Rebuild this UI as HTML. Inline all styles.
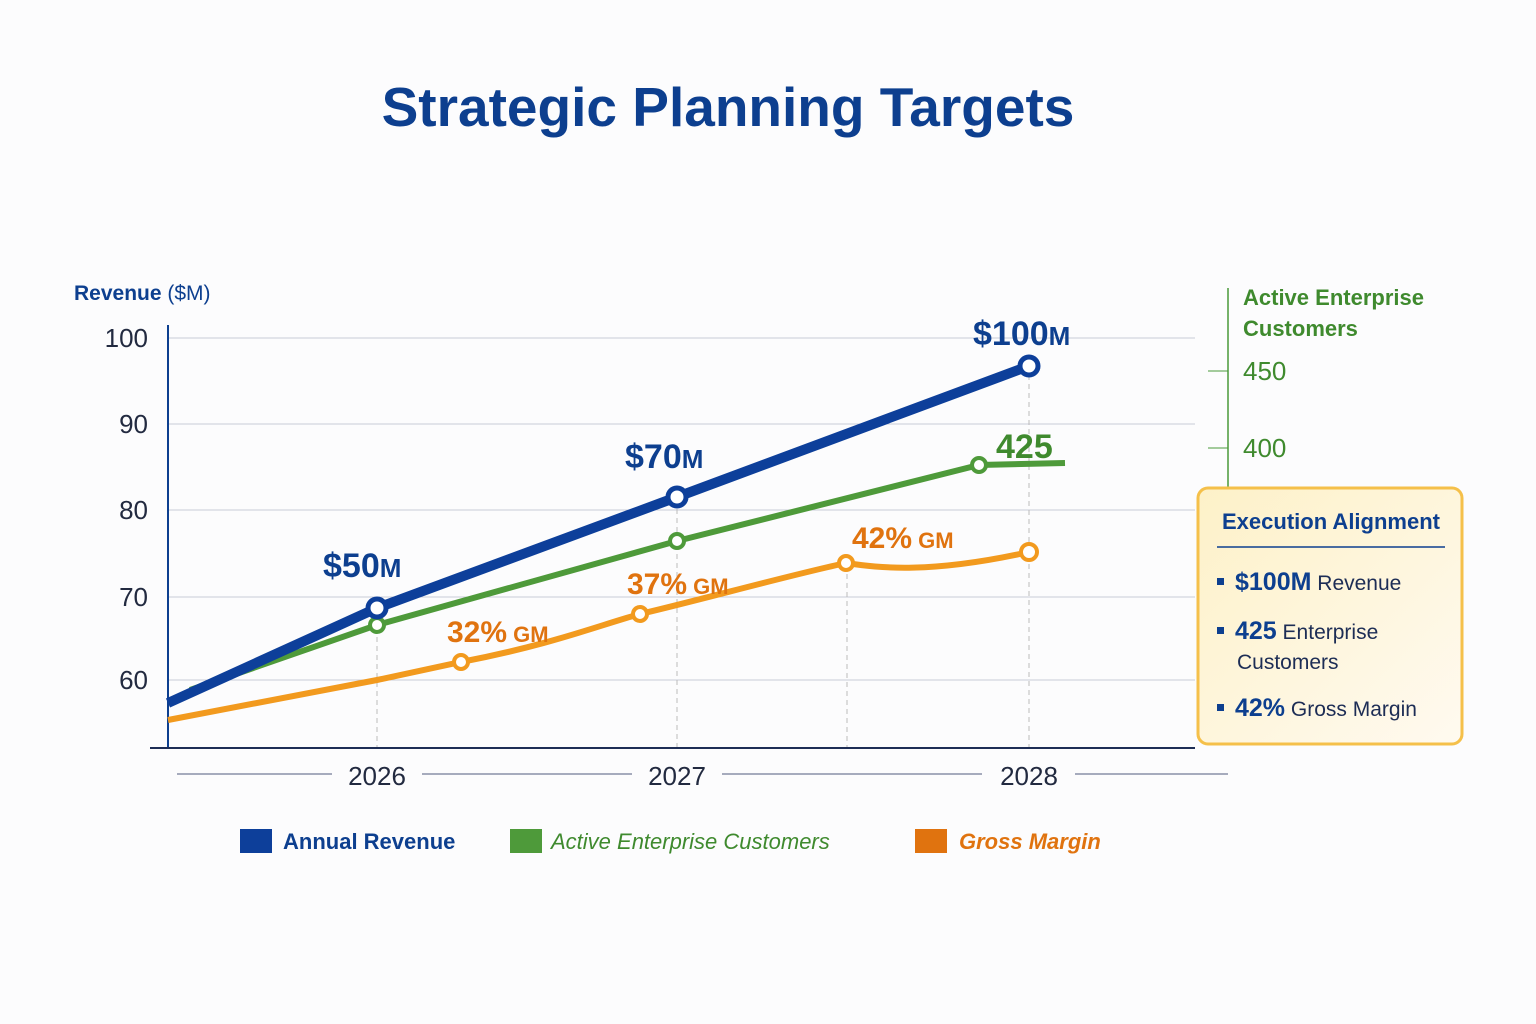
<!DOCTYPE html>
<html><head><meta charset="utf-8"><style>
body{margin:0;width:1536px;height:1024px;background:#fcfcfd;overflow:hidden;font-family:"Liberation Sans",sans-serif}
</style></head><body>
<svg width="1536" height="1024" xmlns="http://www.w3.org/2000/svg" style="position:absolute;left:0;top:0">
<text x="728" y="126" text-anchor="middle" font-size="55" font-weight="bold" fill="#0d3f8f" font-family="Liberation Sans">Strategic Planning Targets</text>
<text x="74" y="300" font-size="21" font-weight="bold" fill="#0d3f8f">Revenue <tspan font-weight="normal">($M)</tspan></text>
<g stroke="#c9cbd8" stroke-width="1">
<line x1="168" y1="338" x2="1195" y2="338"/><line x1="168" y1="424" x2="1195" y2="424"/>
<line x1="168" y1="510" x2="1195" y2="510"/><line x1="168" y1="597" x2="1195" y2="597"/>
<line x1="168" y1="680" x2="1195" y2="680"/>
</g>
<g stroke="#bbb" stroke-dasharray="5,4"><line x1="377" y1="610" x2="377" y2="748"/><line x1="677" y1="500" x2="677" y2="748"/><line x1="847" y1="565" x2="847" y2="748"/><line x1="1029" y1="366" x2="1029" y2="748"/></g>
<line x1="168" y1="325" x2="168" y2="748" stroke="#0d3f8f" stroke-width="2"/>
<line x1="150" y1="748" x2="1195" y2="748" stroke="#1d2d55" stroke-width="2"/>
<g font-size="26" fill="#222a40" text-anchor="end"><text x="148" y="347">100</text><text x="148" y="433">90</text><text x="148" y="519">80</text><text x="148" y="606">70</text><text x="148" y="689">60</text></g>
<g stroke="#8a90a8" stroke-width="1.5"><line x1="177" y1="774" x2="332" y2="774"/><line x1="422" y1="774" x2="632" y2="774"/><line x1="722" y1="774" x2="982" y2="774"/><line x1="1075" y1="774" x2="1228" y2="774"/></g>
<g font-size="26" fill="#222a40" text-anchor="middle"><text x="377" y="785">2026</text><text x="677" y="785">2027</text><text x="1029" y="785">2028</text></g>
<line x1="1228" y1="288" x2="1228" y2="490" stroke="#4a9a3a" stroke-width="1.5"/>
<g stroke="#4a9a3a"><line x1="1208" y1="371" x2="1228" y2="371"/><line x1="1208" y1="448" x2="1228" y2="448"/></g>
<text x="1243" y="305" font-size="22" font-weight="bold" fill="#3f8a2e">Active Enterprise</text>
<text x="1243" y="336" font-size="22" font-weight="bold" fill="#3f8a2e">Customers</text>
<g font-size="26" fill="#3f8a2e"><text x="1243" y="380">450</text><text x="1243" y="457">400</text></g>
<path d="M168,720 L377,680 L461,662 C550,645 600,625 640,614 C700,600 790,575 846,563 C880,568 930,574 1029,552" fill="none" stroke="#f29a1e" stroke-width="6"/>
<path d="M190,690 L377,625 L677,541 L979,465 L1065,463" fill="none" stroke="#4e9a3a" stroke-width="6"/>
<path d="M168,703 L377,608 L677,497 L1029,366" fill="none" stroke="#0d3f9a" stroke-width="10"/>
<g fill="#fff" stroke-width="4">
<circle cx="461" cy="662" r="7" stroke="#f29a1e"/><circle cx="640" cy="614" r="7" stroke="#f29a1e"/><circle cx="846" cy="563" r="7" stroke="#f29a1e"/><circle cx="1029" cy="552" r="8" stroke="#f29a1e"/>
<circle cx="377" cy="625" r="7" stroke="#4e9a3a"/><circle cx="677" cy="541" r="7" stroke="#4e9a3a"/><circle cx="979" cy="465" r="7" stroke="#4e9a3a"/>
<circle cx="377" cy="608" r="9" stroke="#0d3f9a" stroke-width="5"/><circle cx="677" cy="497" r="9" stroke="#0d3f9a" stroke-width="5"/><circle cx="1029" cy="366" r="9" stroke="#0d3f9a" stroke-width="5"/>
</g>
<g font-weight="bold" fill="#0d3f8f" font-size="34"><text x="323" y="577">$50<tspan font-size="26">M</tspan></text><text x="625" y="468">$70<tspan font-size="26">M</tspan></text><text x="973" y="345">$100<tspan font-size="26">M</tspan></text></g>
<text x="996" y="458" font-weight="bold" fill="#3f8a2e" font-size="34">425</text>
<g font-weight="bold" fill="#e0730f" font-size="30"><text x="447" y="642">32%<tspan font-size="22"> GM</tspan></text><text x="627" y="594">37%<tspan font-size="22"> GM</tspan></text><text x="852" y="548">42%<tspan font-size="22"> GM</tspan></text></g>
<defs><linearGradient id="bg" x1="0" y1="0" x2="1" y2="1"><stop offset="0" stop-color="#fdf1c8"/><stop offset="1" stop-color="#fffaf0"/></linearGradient></defs>
<rect x="1198" y="488" width="264" height="256" rx="10" fill="url(#bg)" stroke="#f5c04a" stroke-width="3"/>
<text x="1331" y="529" text-anchor="middle" font-size="22" font-weight="bold" fill="#0d3f8f">Execution Alignment</text>
<line x1="1217" y1="547" x2="1445" y2="547" stroke="#0d3f8f" stroke-width="1.5"/>
<g fill="#0d3f8f"><rect x="1217" y="578" width="7" height="7"/><rect x="1217" y="627" width="7" height="7"/><rect x="1217" y="704" width="7" height="7"/></g>
<g font-size="21" fill="#1d2d55">
<text x="1235" y="590"><tspan font-weight="bold" font-size="25" fill="#0d3f8f">$100M</tspan> Revenue</text>
<text x="1235" y="639"><tspan font-weight="bold" font-size="25" fill="#0d3f8f">425</tspan> Enterprise</text>
<text x="1237" y="669">Customers</text>
<text x="1235" y="716"><tspan font-weight="bold" font-size="25" fill="#0d3f8f">42%</tspan> Gross Margin</text>
</g>
<rect x="240" y="829" width="32" height="24" fill="#0d3f9a"/>
<text x="283" y="849" font-size="22" font-weight="bold" fill="#0d3f8f">Annual Revenue</text>
<rect x="510" y="829" width="32" height="24" fill="#4e9a3a"/>
<text x="551" y="849" font-size="22" font-style="italic" fill="#3f8a2e">Active Enterprise Customers</text>
<rect x="915" y="829" width="32" height="24" fill="#e0730f"/>
<text x="959" y="849" font-size="22" font-style="italic" font-weight="bold" fill="#e0730f">Gross Margin</text>
</svg>
</body></html>
